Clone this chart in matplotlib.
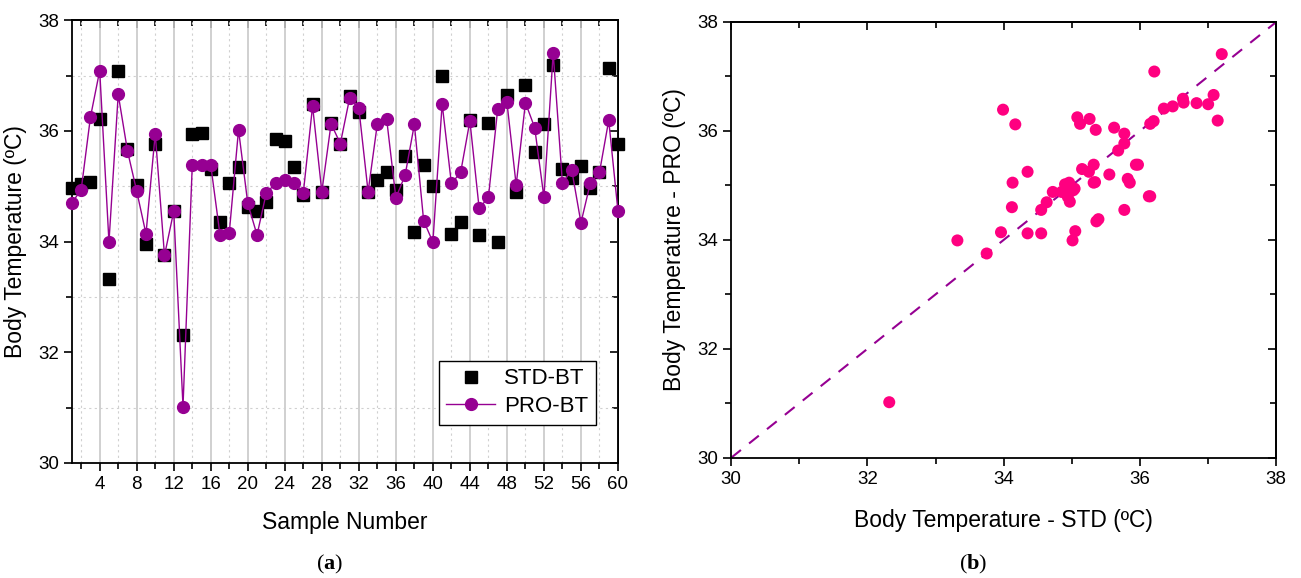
import numpy as np
import matplotlib.pyplot as plt
from matplotlib.ticker import MultipleLocator

plt.rcParams['font.family'] = ['Liberation Sans', 'DejaVu Sans']
plt.rcParams['mathtext.fontset'] = 'custom'
plt.rcParams['mathtext.rm'] = 'Liberation Serif'
plt.rcParams['mathtext.bf'] = 'Liberation Serif:bold'
plt.rcParams['xtick.labelsize'] = 13.5
plt.rcParams['ytick.labelsize'] = 13.5

# dados
amostras = np.arange(1, 61)
std_bt = [34.97, 35.04, 35.08, 36.21, 33.32, 37.08, 35.68, 35.02, 33.96, 35.77,
          33.75, 34.55, 32.32, 35.94, 35.97, 35.32, 34.35, 35.05, 35.35, 34.63,
          34.55, 34.72, 35.85, 35.82, 35.34, 34.85, 36.48, 34.90, 36.15, 35.77,
          36.63, 36.35, 34.90, 35.12, 35.26, 34.94, 35.55, 34.17, 35.39, 35.01,
          37.00, 34.13, 34.35, 36.20, 34.12, 36.15, 33.99, 36.64, 34.90, 36.83,
          35.62, 36.13, 37.20, 35.32, 35.15, 35.36, 34.96, 35.25, 37.14, 35.77]
pro_bt = [34.70, 34.94, 36.25, 37.09, 33.99, 36.66, 35.64, 34.91, 34.14, 35.95,
          33.75, 34.55, 31.02, 35.38, 35.38, 35.38, 34.12, 34.16, 36.02, 34.69,
          34.12, 34.88, 35.05, 35.12, 35.06, 34.88, 36.45, 34.90, 36.13, 35.77,
          36.59, 36.41, 34.90, 36.13, 36.22, 34.79, 35.20, 36.12, 34.38, 33.99,
          36.49, 35.05, 35.25, 36.18, 34.60, 34.80, 36.39, 36.52, 35.02, 36.51,
          36.06, 34.80, 37.41, 35.05, 35.30, 34.34, 35.05, 35.25, 36.19, 34.55]

roxo = '#960092'
rosa = '#FF0080'

fig = plt.figure(figsize=(13.01, 5.78), dpi=100)
ax1 = fig.add_axes([0.0553, 0.199, 0.4197, 0.766])
ax2 = fig.add_axes([0.562, 0.208, 0.419, 0.754])

# ---- (a) serie temporal
ax1.plot(amostras, std_bt, 's', color='black', ms=8, label='STD-BT', zorder=3, clip_on=False)
ax1.plot(amostras, pro_bt, 'o-', color=roxo, lw=1, ms=8.5, label='PRO-BT', zorder=4, clip_on=False)
ax1.set_xlim(1, 60)
ax1.set_ylim(30, 38)
ax1.xaxis.set_major_locator(MultipleLocator(4))
ax1.xaxis.set_minor_locator(MultipleLocator(2))
ax1.yaxis.set_major_locator(MultipleLocator(2))
ax1.yaxis.set_minor_locator(MultipleLocator(1))
ax1.grid(axis='x', which='major', color='#c8c8c8', lw=1.2, ls='-')
ax1.grid(axis='x', which='minor', color='#d0d0d0', lw=0.8, ls=(0, (2, 3)))
ax1.grid(axis='y', which='minor', color='#d0d0d0', lw=0.8, ls=(0, (2, 3)))
ax1.set_axisbelow(True)
ax1.set_xlabel('Sample Number', fontsize=16.5, labelpad=13)
ax1.set_ylabel('Body Temperature (ºC)', fontsize=16.5, labelpad=8)
leg = ax1.legend(loc='lower right', bbox_to_anchor=(0.96, 0.086), borderaxespad=0,
                 fontsize=16, fancybox=False, edgecolor='black', framealpha=1,
                 handlelength=2.2, borderpad=0.35, labelspacing=0.3, handletextpad=0.4)
leg.get_frame().set_linewidth(1.0)
leg.set_zorder(10)

# ---- (b) dispersao
ax2.scatter(std_bt, pro_bt, s=75, color=rosa, edgecolors='none', zorder=3)
ax2.plot([30, 38], [30, 38], ls=(0, (6, 5)), color=roxo, lw=1.5, zorder=2)
ax2.set_xlim(30, 38)
ax2.set_ylim(30, 38)
ax2.xaxis.set_major_locator(MultipleLocator(2))
ax2.xaxis.set_minor_locator(MultipleLocator(1))
ax2.yaxis.set_major_locator(MultipleLocator(2))
ax2.yaxis.set_minor_locator(MultipleLocator(1))
ax2.set_xlabel('Body Temperature - STD (ºC)', fontsize=16.5, labelpad=15)
ax2.set_ylabel('Body Temperature - PRO (ºC)', fontsize=16.5, labelpad=8)

for ax in (ax1, ax2):
    for s in ax.spines.values():
        s.set_linewidth(1.3)
    ax.tick_params(which='both', width=1.2)
    ax.tick_params(which='major', length=6)
    ax.tick_params(which='minor', length=4)
    ax.tick_params(axis='x', which='both', direction='out', bottom=True, top=False)
    ax.tick_params(axis='y', which='both', direction='out', left=True, right=False)
    # ticks de cima/direita para dentro
    sx = ax.secondary_xaxis('top')
    sx.set_xticks(ax.get_xticks(minor=False))
    sx.set_xticks(ax.get_xticks(minor=True), minor=True)
    sx.tick_params(which='both', direction='in', labeltop=False, width=1.2)
    sx.tick_params(which='major', length=6)
    sx.tick_params(which='minor', length=4)
    sx.spines['top'].set_linewidth(1.3)
    sy = ax.secondary_yaxis('right')
    sy.set_yticks(ax.get_yticks(minor=False))
    sy.set_yticks(ax.get_yticks(minor=True), minor=True)
    sy.tick_params(which='both', direction='in', labelright=False, width=1.2)
    sy.tick_params(which='major', length=6)
    sy.tick_params(which='minor', length=4)
    sy.spines['right'].set_linewidth(1.3)

fig.text(0.2535, 0.015, r'($\mathbf{a}$)', fontsize=16, ha='center', family='Liberation Serif')
fig.text(0.748, 0.015, r'($\mathbf{b}$)', fontsize=16, ha='center', family='Liberation Serif')

plt.savefig('out.png', dpi=100)
